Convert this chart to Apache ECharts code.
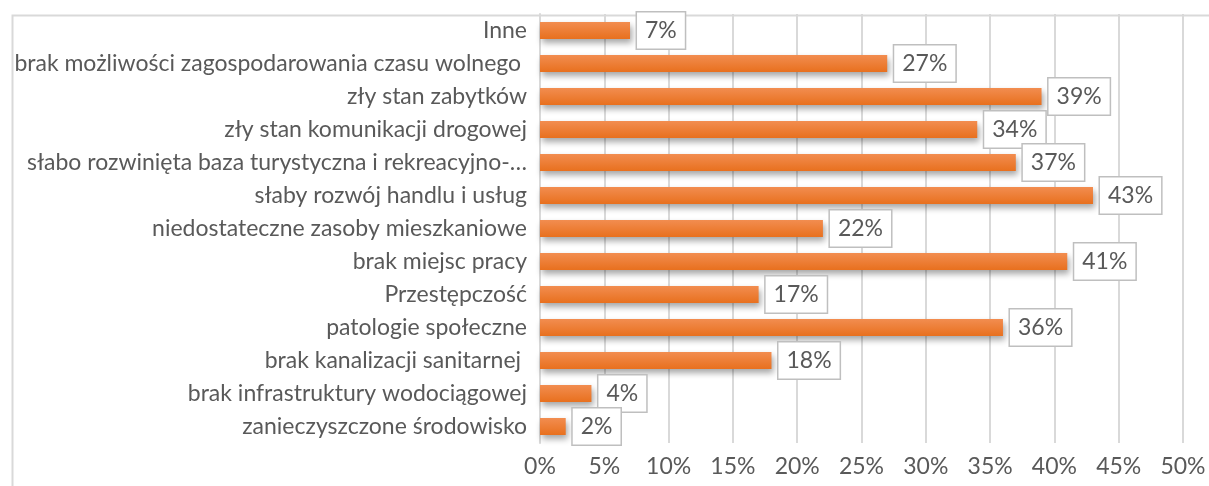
<!DOCTYPE html>
<html>
<head>
<meta charset="utf-8">
<script src="https://cdn.jsdelivr.net/npm/echarts@6/dist/echarts.min.js"></script>
<style>
  html, body { margin: 0; padding: 0; background: #fff; }
  #chart { width: 1209px; height: 486px; }
</style>
</head>
<body>
<div id="chart"></div>
<script>
// categories listed top to bottom as in the picture
const categories = [
  'Inne',
  'brak możliwości zagospodarowania czasu wolnego ',
  'zły stan zabytków',
  'zły stan komunikacji drogowej',
  'słabo rozwinięta baza turystyczna i rekreacyjno-…',
  'słaby rozwój handlu i usług',
  'niedostateczne zasoby mieszkaniowe',
  'brak miejsc pracy',
  'Przestępczość',
  'patologie społeczne',
  'brak kanalizacji sanitarnej ',
  'brak infrastruktury wodociągowej',
  'zanieczyszczone środowisko'
]
const values = [7, 27, 39, 34, 37, 43, 22, 41, 17, 36, 18, 4, 2]
const xTicks = { min: 0, max: 50, step: 5 }

const font = 'Lato, Carlito, "Open Sans", sans-serif'
const textColor = '#595959'
const gridColor = '#d9d9d9'

const chart = echarts.init(document.getElementById('chart'))

chart.setOption({
  animation: false,
  graphic: [{
    type: 'rect',
    left: 10,
    top: 13,
    shape: { width: 1400, height: 700 },
    style: { fill: 'none', stroke: gridColor, lineWidth: 2 },
    silent: true,
    z: -1
  }],
  grid: { left: 540, right: 26, top: 14, bottom: 43 },
  xAxis: {
    type: 'value',
    min: xTicks.min,
    max: xTicks.max,
    interval: xTicks.step,
    axisLine: { show: false },
    axisTick: { show: false },
    axisLabel: {
      formatter: '{value}%',
      color: textColor,
      fontFamily: font,
      fontSize: 23,
      margin: 12
    },
    splitLine: { lineStyle: { color: gridColor, width: 2 } }
  },
  yAxis: {
    type: 'category',
    inverse: true,
    data: categories,
    axisLine: { show: true, lineStyle: { color: gridColor, width: 2 } },
    axisTick: { show: false },
    axisLabel: {
      color: textColor,
      fontFamily: font,
      fontSize: 23,
      margin: 13
    }
  },
  series: [{
    type: 'bar',
    data: values,
    barWidth: 17,
    itemStyle: {
      color: new echarts.graphic.LinearGradient(0, 0, 0, 1, [
        { offset: 0, color: '#f28d50' },
        { offset: 1, color: '#e8701e' }
      ]),
      shadowColor: 'rgba(0,0,0,0.35)',
      shadowBlur: 6,
      shadowOffsetX: 2,
      shadowOffsetY: 4
    },
    label: {
      show: true,
      position: 'right',
      distance: 7,
      formatter: '{c}%',
      color: textColor,
      fontFamily: font,
      fontSize: 23,
      backgroundColor: '#fff',
      borderColor: '#bfbfbf',
      borderWidth: 1.5,
      padding: [7, 8, 6, 8]
    }
  }]
})

window.addEventListener('resize', () => chart.resize())
</script>
</body>
</html>
